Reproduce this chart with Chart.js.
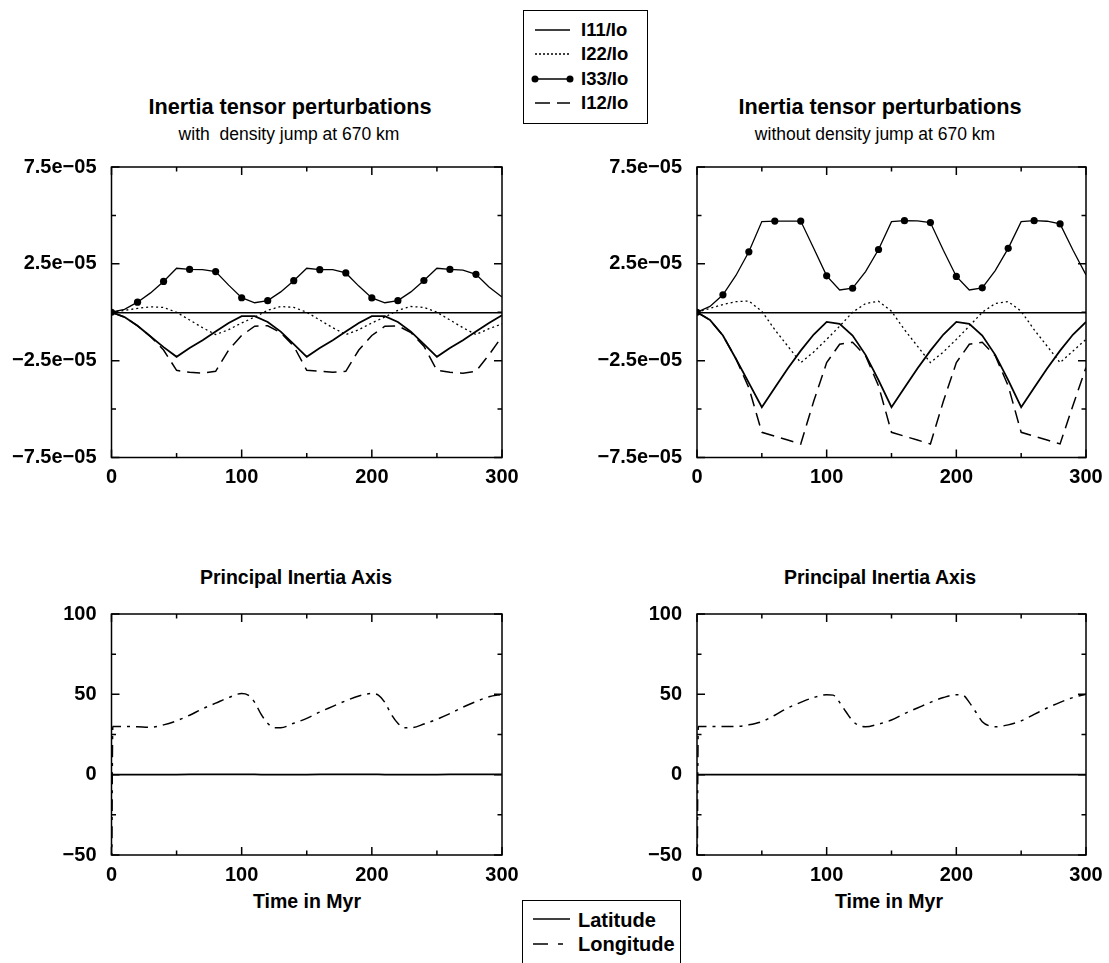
<!DOCTYPE html>
<html>
<head>
<meta charset="utf-8">
<title>Inertia tensor perturbations</title>
<script src="https://cdn.jsdelivr.net/npm/chart.js@4.4.0/dist/chart.umd.min.js"></script>
<style>
  body { margin:0; background:#fff; width:1109px; height:963px; overflow:hidden; position:relative;
         font-family:"Liberation Sans", Arial, Helvetica, sans-serif; color:#000; }
  canvas { position:absolute; }
  .lbl { position:absolute; white-space:nowrap; transform:translate(-50%,-50%); }
  .title { font-weight:bold; font-size:21.7px; }
  .sub { font-size:17.5px; }
  .ptitle { font-weight:bold; font-size:19.5px; }
  .legend { position:absolute; border:1.5px solid #000; background:#fff; box-sizing:border-box; }
  .legend svg { position:absolute; left:0; top:0; }
  .legend .row { position:absolute; font-weight:bold; transform:translateY(-50%); white-space:nowrap; }
</style>
</head>
<body>

<div class="lbl title" style="left:290px;top:107px">Inertia tensor perturbations</div>
<div class="lbl sub" style="left:289px;top:134px">with&nbsp; density jump at 670 km</div>
<div class="lbl title" style="left:880px;top:107px">Inertia tensor perturbations</div>
<div class="lbl sub" style="left:875px;top:134px">without density jump at 670 km</div>

<div class="lbl ptitle" style="left:296px;top:577px">Principal Inertia Axis</div>
<div class="lbl ptitle" style="left:880px;top:577px">Principal Inertia Axis</div>
<div class="lbl ptitle" style="left:307px;top:901px">Time in Myr</div>
<div class="lbl ptitle" style="left:889px;top:901px">Time in Myr</div>

<canvas id="topLeft"></canvas>
<canvas id="topRight"></canvas>
<canvas id="botLeft"></canvas>
<canvas id="botRight"></canvas>

<!-- legend of the tensor components -->
<div class="legend" style="left:523px;top:10px;width:125px;height:114px">
  <svg width="125" height="114">
    <line x1="11" y1="19" x2="46" y2="19" stroke="#000" stroke-width="1.5"/>
    <line x1="11" y1="43" x2="46" y2="43" stroke="#000" stroke-width="1.3" stroke-dasharray="2 2"/>
    <line x1="11" y1="68" x2="46" y2="68" stroke="#000" stroke-width="1.3"/>
    <circle cx="11" cy="68" r="3.5" fill="#000"/>
    <circle cx="46" cy="68" r="3.5" fill="#000"/>
    <line x1="11" y1="92" x2="46" y2="92" stroke="#000" stroke-width="1.5" stroke-dasharray="15 7"/>
  </svg>
  <div class="row" style="left:57px;top:19px;font-size:18.5px">I11/Io</div>
  <div class="row" style="left:57px;top:43px;font-size:18.5px">I22/Io</div>
  <div class="row" style="left:57px;top:68px;font-size:18.5px">I33/Io</div>
  <div class="row" style="left:57px;top:92px;font-size:18.5px">I12/Io</div>
</div>

<!-- legend of the axis angles -->
<div class="legend" style="left:522px;top:900px;width:159px;height:80px">
  <svg width="159" height="80">
    <line x1="10" y1="18" x2="47" y2="18" stroke="#000" stroke-width="1.5"/>
    <line x1="10" y1="43" x2="47" y2="43" stroke="#000" stroke-width="1.5" stroke-dasharray="15 10 5 100"/>
  </svg>
  <div class="row" style="left:55px;top:19px;font-size:20px">Latitude</div>
  <div class="row" style="left:55px;top:43px;font-size:20px">Longitude</div>
</div>

<script>
// tiempos (Myr) de las curvas del tensor de inercia
const timeTop = [0,10,20,30,40,50,60,70,80,90,100,110,120,130,140,150,160,170,180,190,200,
                 210,220,230,240,250,260,270,280,290,300];
// marcadores de I33 cada 20 Myr
const i33MarkerTimes = [0,20,40,60,80,100,120,140,160,180,200,220,240,260,280];

// con salto de densidad a 670 km (unidades de 1e-05)
const i11With = [0,-0.25,-0.7,-1.25,-1.8,-2.3,-1.85,-1.45,-1.0,-0.55,-0.2,-0.2,-0.5,-1.0,-1.65,-2.3,
                 -1.85,-1.45,-1.0,-0.55,-0.2,-0.2,-0.5,-1.0,-1.65,-2.3,-1.85,-1.45,-1.0,-0.55,-0.15];
const i22With = [0,0.1,0.2,0.28,0.25,0.0,-0.4,-0.8,-1.15,-0.9,-0.55,-0.25,0.1,0.3,0.25,0.0,
                 -0.4,-0.8,-1.15,-0.9,-0.55,-0.25,0.1,0.3,0.25,0.0,-0.4,-0.8,-1.15,-0.85,-0.6];
const i33With = [0,0.15,0.52,1.0,1.59,2.27,2.21,2.2,2.1,1.4,0.75,0.49,0.6,1.05,1.63,2.27,
                 2.2,2.2,2.03,1.35,0.74,0.49,0.6,1.05,1.64,2.27,2.21,2.18,1.96,1.3,0.79];
const i12With = [0,-0.25,-0.7,-1.25,-1.95,-3.0,-3.1,-3.15,-3.05,-1.95,-1.2,-0.72,-0.7,-1.05,-1.75,-3.0,
                 -3.05,-3.1,-3.05,-1.95,-1.2,-0.72,-0.7,-1.05,-1.75,-3.0,-3.1,-3.15,-3.05,-2.2,-1.25];

// sin salto de densidad (unidades de 1e-05)
const i11Without = [0,-0.4,-1.2,-2.4,-3.65,-4.9,-3.9,-2.9,-1.98,-1.15,-0.5,-0.6,-1.2,-2.2,-3.5,-4.9,
                    -3.9,-2.9,-1.98,-1.15,-0.5,-0.6,-1.2,-2.2,-3.5,-4.9,-3.9,-2.9,-1.98,-1.15,-0.5];
const i22Without = [0,0.2,0.4,0.55,0.58,0.05,-0.9,-1.75,-2.6,-2.05,-1.4,-0.72,0.0,0.45,0.57,0.05,
                    -0.9,-1.75,-2.6,-2.05,-1.4,-0.72,0.0,0.45,0.55,0.05,-0.9,-1.75,-2.6,-2.0,-1.4];
const i33Without = [0,0.3,0.9,1.9,3.12,4.68,4.71,4.71,4.71,3.3,1.88,1.15,1.24,2.1,3.24,4.68,
                    4.73,4.72,4.63,3.2,1.85,1.15,1.26,2.15,3.3,4.68,4.73,4.7,4.56,3.2,1.93];
const i12Without = [0,-0.4,-1.2,-2.4,-3.9,-6.2,-6.4,-6.6,-6.8,-4.6,-2.6,-1.65,-1.55,-2.25,-3.8,-6.2,
                    -6.4,-6.6,-6.8,-4.6,-2.6,-1.65,-1.55,-2.25,-3.8,-6.2,-6.4,-6.6,-6.8,-4.8,-2.85];

// eje principal de inercia (grados)
const timeBottom = [0,1,10,20,30,40,50,60,70,80,90,100,105,110,115,120,125,130,140,150,160,170,180,190,
                    200,205,210,215,220,225,230,240,250,260,270,280,290,300];
const latWith = [0,0,0,0,0,0,0,0.2,0.2,0.2,0.2,0.2,0.2,0.2,0,0,0,0,0,0,0.2,0.2,0.2,0.2,
                 0.2,0.2,0,0,0,0,0,0,0,0.2,0.2,0.2,0.2,0.2];
const lonWith = [-90,30,30,29.8,29.5,31,33.5,37,41,44.5,48,50.5,49.5,45,37.5,32,29.2,29.2,32,35,39,42.5,46,49,
                 50.5,49.5,45,37.5,32,29.2,29.2,31.5,34.5,38,42,45.5,48.5,50];
const latWithout = [0,0,0,0,0,0,0,0,0,0,0,0,0,0,0,0,0,0,0,0,0,0,0,0,
                    0,0,0,0,0,0,0,0,0,0,0,0,0,0];
const lonWithout = [-90,30,30,30,30,31,33,37,41.5,45,48,49.8,49.5,45,39,33.5,30.5,29.8,31.5,34,38,41.5,45,48,
                    49.8,49.5,45,39,33,30.5,29.8,31,33.5,37.5,41.5,45,48,50];

// ejes
const xTicks = [0,50,100,150,200,250,300];
const xTickLabels = ['0','','100','','200','','300'];
const yTopTicks = [-7.5,-5,-2.5,0,2.5,5,7.5];
const yTopTickLabels = ['\u22127.5e\u221205','','\u22122.5e\u221205','','2.5e\u221205','','7.5e\u221205'];
const yBotTicks = [-50,-25,0,25,50,75,100];
const yBotTickLabels = ['\u221250','','0','','50','','100'];

Chart.defaults.font.family = '"Liberation Sans", Arial, Helvetica, sans-serif';
Chart.defaults.color = '#000';

function toPoints(xs, ys) {
  return xs.map((x, i) => ({ x: x, y: ys[i] }));
}

// marco con marcas interiores en los cuatro lados
const framePlugin = {
  id: 'frame',
  afterDatasetsDraw(chart) {
    const { ctx, chartArea: a, scales: { x, y } } = chart;
    ctx.save();
    ctx.strokeStyle = '#000';
    ctx.lineWidth = 1.5;
    ctx.strokeRect(a.left, a.top, a.right - a.left, a.bottom - a.top);
    ctx.beginPath();
    x.ticks.forEach(t => {
      const px = x.getPixelForValue(t.value);
      const len = t.label ? 8 : 4.5;
      ctx.moveTo(px, a.bottom); ctx.lineTo(px, a.bottom - len);
      ctx.moveTo(px, a.top); ctx.lineTo(px, a.top + len);
    });
    y.ticks.forEach(t => {
      const py = y.getPixelForValue(t.value);
      const len = t.label ? 8 : 4.5;
      ctx.moveTo(a.left, py); ctx.lineTo(a.left + len, py);
      ctx.moveTo(a.right, py); ctx.lineTo(a.right - len, py);
    });
    ctx.stroke();
    ctx.restore();
  }
};

function makeChart(id, frame, datasets, yTicks, yLabels, zeroLine) {
  const cv = document.getElementById(id);
  const left = Math.floor(frame.left - 105), top = Math.floor(frame.top - 20);
  const width = Math.min(1109, Math.ceil(frame.right + 24)) - left;
  const height = Math.ceil(frame.bottom + 40) - top;
  cv.width = width; cv.height = height;
  cv.style.left = left + 'px'; cv.style.top = top + 'px';
  cv.style.width = width + 'px'; cv.style.height = height + 'px';
  const yW = frame.left - left;
  const padTop = frame.top - top;
  const padRight = width - (frame.right - left);
  const xH = height - padTop - (frame.bottom - frame.top);
  const tickFont = { size: 20, weight: 'bold' };

  return new Chart(cv.getContext('2d'), {
    type: 'line',
    data: { datasets: datasets },
    options: {
      responsive: false,
      animation: false,
      events: [],
      layout: { padding: { top: padTop, right: padRight, left: 0, bottom: 0 } },
      plugins: { legend: { display: false }, tooltip: { enabled: false } },
      scales: {
        x: {
          type: 'linear', min: 0, max: 300,
          grid: { display: false }, border: { display: false },
          afterBuildTicks: s => { s.ticks = xTicks.map(v => ({ value: v })); },
          ticks: { padding: 0, font: tickFont, maxRotation: 0, autoSkip: false,
                   callback: (v, i) => xTickLabels[i] },
          afterFit: s => { s.height = xH; }
        },
        y: {
          type: 'linear', min: yTicks[0], max: yTicks[yTicks.length - 1],
          grid: {
            drawTicks: false, lineWidth: 1.5,
            color: c => (zeroLine && c.tick && c.tick.value === 0) ? '#000' : 'rgba(0,0,0,0)'
          },
          border: { display: false },
          afterBuildTicks: s => { s.ticks = yTicks.map(v => ({ value: v })); },
          ticks: { padding: 15, font: tickFont, autoSkip: false,
                   callback: (v, i) => yLabels[i] },
          afterFit: s => { s.width = yW; }
        }
      }
    },
    plugins: [framePlugin]
  });
}

function tensorSets(i11, i22, i33, i12) {
  return [
    { data: toPoints(timeTop, i11), borderColor: '#000', borderWidth: 1.8, pointRadius: 0, tension: 0 },
    { data: toPoints(timeTop, i22), borderColor: '#000', borderWidth: 1.3, borderDash: [2, 3], pointRadius: 0 },
    { data: toPoints(timeTop, i33), borderColor: '#000', borderWidth: 1.3,
      pointRadius: c => (c.raw && i33MarkerTimes.includes(c.raw.x)) ? 3.6 : 0,
      pointBackgroundColor: '#000', pointBorderWidth: 0 },
    { data: toPoints(timeTop, i12), borderColor: '#000', borderWidth: 1.5, borderDash: [13, 7], pointRadius: 0 }
  ];
}

function axisSets(lat, lon) {
  return [
    { data: toPoints(timeBottom, lat), borderColor: '#000', borderWidth: 1.6, pointRadius: 0 },
    { data: toPoints(timeBottom, lon), borderColor: '#000', borderWidth: 1.5, borderDash: [12, 6, 3, 6],
      pointRadius: 0, cubicInterpolationMode: 'monotone' }
  ];
}

makeChart('topLeft', { left: 111.5, top: 160, right: 502, bottom: 457.5 },
  tensorSets(i11With, i22With, i33With, i12With), yTopTicks, yTopTickLabels, true);
makeChart('topRight', { left: 697, top: 160, right: 1086, bottom: 457.5 },
  tensorSets(i11Without, i22Without, i33Without, i12Without), yTopTicks, yTopTickLabels, true);
makeChart('botLeft', { left: 111.5, top: 607, right: 502, bottom: 855 },
  axisSets(latWith, lonWith), yBotTicks, yBotTickLabels, false);
makeChart('botRight', { left: 697, top: 607, right: 1086, bottom: 855 },
  axisSets(latWithout, lonWithout), yBotTicks, yBotTickLabels, false);
</script>
</body>
</html>
